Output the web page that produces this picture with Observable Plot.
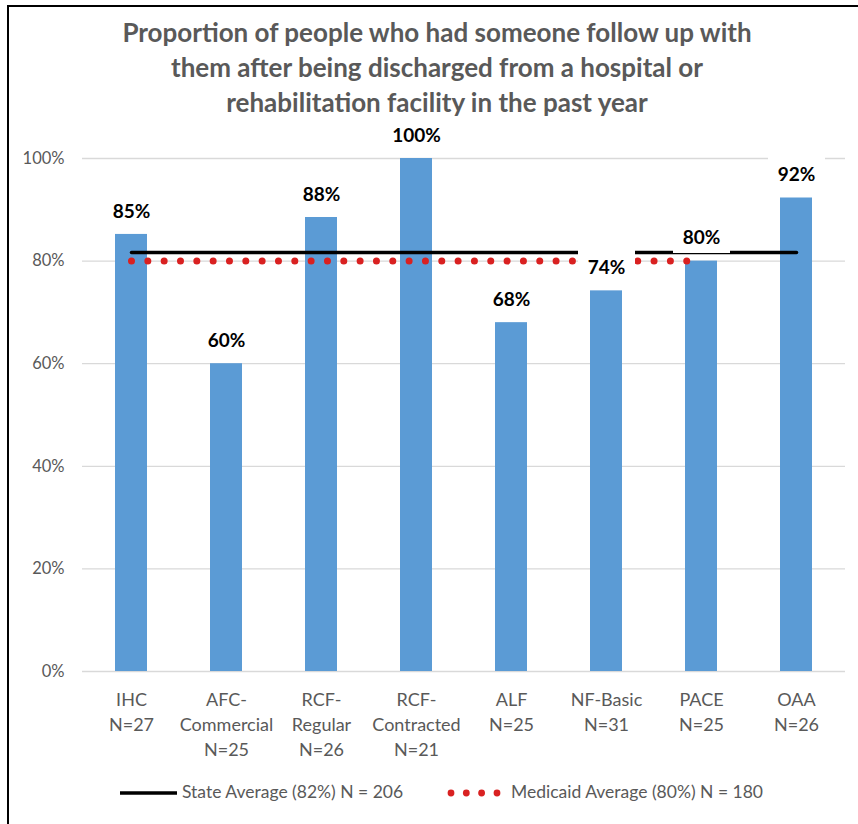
<!DOCTYPE html>
<html>
<head>
<meta charset="utf-8">
<script src="https://cdn.jsdelivr.net/npm/d3@7"></script>
<script src="https://cdn.jsdelivr.net/npm/@observablehq/plot@0.6"></script>
<style>
  html, body { margin: 0; padding: 0; background: #fff; overflow: hidden; }
  body { width: 858px; height: 824px; position: relative; font-family: Lato, "Open Sans", sans-serif; }
  #frame { position: absolute; left: 7px; top: 5px; width: 900px; height: 900px; border-left: 2px solid #000; border-top: 2px solid #000; }
  #title { position: absolute; left: 16px; width: 842px; top: 15px; text-align: center; font-weight: bold; font-size: 26px; line-height: 35px; color: #595959; }
  #chart { position: absolute; left: 0; top: 120px; }
  .leg { position: absolute; top: 780px; font-size: 17.5px; color: #595959; line-height: 24px; white-space: nowrap; }
</style>
</head>
<body>
<div id="frame"></div>
<div id="title">Proportion of people who had someone follow up with<br>them after being discharged from a hospital or<br>rehabilitation facility in the past year</div>
<div id="chart"></div>
<svg style="position:absolute;left:0;top:780px" width="858" height="26">
  <line x1="120" x2="177" y1="13" y2="13" stroke="#000" stroke-width="3.5"/>
  <g fill="#D92121"><circle cx="451" cy="13" r="3.4"/><circle cx="466.3" cy="13" r="3.4"/><circle cx="481.6" cy="13" r="3.4"/><circle cx="497" cy="13" r="3.4"/></g>
</svg>
<div class="leg" style="left:182px">State Average (82%) N = 206</div>
<div class="leg" style="left:511px">Medicaid Average (80%) N = 180</div>
<script>
const categories = ["IHC", "AFC-Commercial", "RCF-Regular", "RCF-Contracted", "ALF", "NF-Basic", "PACE", "OAA"];
const tickLabels = ["IHC\nN=27", "AFC-\nCommercial\nN=25", "RCF-\nRegular\nN=26", "RCF-\nContracted\nN=21", "ALF\nN=25", "NF-Basic\nN=31", "PACE\nN=25", "OAA\nN=26"];
const values = [85.2, 60, 88.5, 100, 68, 74.2, 80, 92.3];
const valueLabels = ["85%", "60%", "88%", "100%", "68%", "74%", "80%", "92%"];
const stateAverage = 81.7;
const medicaidAverage = 80;
const medicaidCategories = ["IHC", "AFC-Commercial", "RCF-Regular", "RCF-Contracted", "ALF", "NF-Basic", "PACE"];
const yTicks = [0, 20, 40, 60, 80, 100];

const bars = categories.map((c, i) => ({cat: c, value: values[i], label: valueLabels[i]}));
const stateLine = categories.map(c => ({cat: c, v: stateAverage}));
const medLine = medicaidCategories.map(c => ({cat: c, v: medicaidAverage}));
const tickMap = new Map(categories.map((c, i) => [c, tickLabels[i]]));

const boxSymbol = { draw(ctx) { ctx.rect(-28.5, -19, 57, 34); } };

const chart = Plot.plot({
  width: 858,
  height: 640,
  marginLeft: 82,
  marginRight: 13,
  marginTop: 38,
  marginBottom: 89,
  style: { fontFamily: "Lato, 'Open Sans', sans-serif", color: "#595959", background: "transparent" },
  x: { domain: categories, paddingInner: 0.665, paddingOuter: 0.3325, label: null },
  y: { domain: [0, 100], label: null },
  marks: [
    Plot.gridY(yTicks, { stroke: "#d9d9d9", strokeOpacity: 1, strokeWidth: 1.3 }),
    Plot.barY(bars, { x: "cat", y: "value", fill: "#5B9BD5" }),
    Plot.lineY(stateLine, { x: "cat", y: "v", stroke: "#000", strokeWidth: 3.5, strokeLinecap: "round" }),
    Plot.lineY(medLine, { x: "cat", y: "v", stroke: "#D92121", strokeWidth: 7, strokeLinecap: "round", strokeDasharray: "0 16.33" }),
    Plot.dot(bars, { x: "cat", y: "value", dy: -23, symbol: boxSymbol, fill: "#fff", stroke: null }),
    Plot.text(bars, { x: "cat", y: "value", dy: -23, text: "label", fontWeight: "bold", fontSize: 19, fill: "#000" }),
    Plot.axisY({ ticks: yTicks, tickFormat: d => d + "%", tickSize: 0, tickPadding: 18, fontSize: 16.5, label: null }),
    Plot.axisX({ tickFormat: d => tickMap.get(d), tickSize: 0, tickPadding: 17, fontSize: 18, lineHeight: 1.389, label: null })
  ]
});
document.getElementById("chart").appendChild(chart);
</script>
</body>
</html>
